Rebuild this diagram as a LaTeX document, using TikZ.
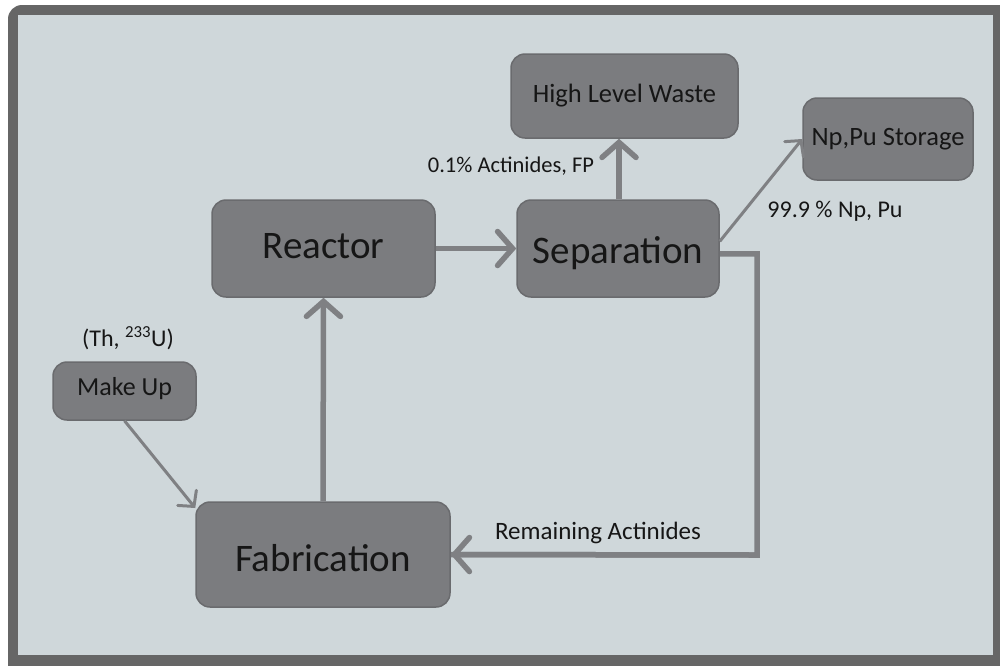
\documentclass[tikz,border=0pt]{standalone}
\usepackage{fontspec}
\setmainfont{Carlito}
\usetikzlibrary{arrows.meta,calc}
\definecolor{bgc}{HTML}{CFD7DA}
\definecolor{framec}{HTML}{666666}
\definecolor{boxc}{HTML}{7B7C7F}
\definecolor{boxb}{HTML}{6A6B6E}
\definecolor{linec}{HTML}{7F8083}
\definecolor{txt}{HTML}{161616}
\tikzset{
  box/.style={draw=boxb, line width=1.5pt, fill=boxc, rounded corners=14pt, inner sep=0pt, text=txt, align=center},
  big/.style={font=\fontsize{39}{42}\selectfont},
  mid/.style={font=\fontsize{26.5}{29}\selectfont},
  lbl/.style={text=txt, inner sep=0pt, font=\fontsize{23}{26}\selectfont},
  thickarrow/.style={draw=linec, line width=5.5pt, -{Straight Barb[length=15pt,width=34pt,line cap=round]}},
  thinarrow/.style={draw=linec, line width=3pt, -{Straight Barb[length=11pt,width=24pt,line cap=round]}},
  thickline/.style={draw=linec, line width=5.5pt}
}
\begin{document}
\begin{tikzpicture}[x=1pt,y=-1pt]
\useasboundingbox (0,0) rectangle (1000,665);
\fill[framec, rounded corners=14pt] (8,5) rectangle (1012,678);
\fill[bgc] (18,15) rectangle (993,655);

\node[box, big, minimum width=223pt, minimum height=97pt] (rea) at (323.5,248.5) {\raisebox{2pt}[\height][\depth]{Reactor}};
\node[box, big, minimum width=202pt, minimum height=97pt] (sep) at (618,248.5) {\raisebox{-5pt}[\height][\depth]{Separation}};
\node[box, mid, minimum width=227pt, minimum height=84pt] (hlw) at (624.5,96) {High Level Waste};
\node[box, mid, minimum width=170pt, minimum height=82pt] (np) at (888,139) {Np,Pu Storage};
\node[box, font=\fontsize{26}{29}\selectfont, minimum width=143pt, minimum height=58pt] (mk) at (124.5,391) {\raisebox{2pt}[\height][\depth]{Make Up}};
\node[box, big, minimum width=254pt, minimum height=105pt] (fab) at (323,554.5) {\raisebox{-4pt}[\height][\depth]{Fabrication}};

\node[lbl, font=\fontsize{22.5}{25}\selectfont] (l1) at (511,166) {0.1\% Actinides, FP};
\node[lbl, font=\fontsize{24}{27}\selectfont] (l2) at (835,211) {99.9 \% Np, Pu};
\node[lbl, font=\fontsize{24}{27}\selectfont] (l3) at (128,338) {(Th, \textsuperscript{233}U)};
\node[lbl, font=\fontsize{25}{28}\selectfont] (l4) at (598,533) {Remaining Actinides};

\coordinate (c1) at (757,555);

\draw[thickarrow] (rea.east |- sep.west) -- (sep.west);
\draw[thickarrow] (sep.north -| 619,0) -- (619,0 |- hlw.south);
\draw[thinarrow] (sep.4) -- (np.west);
\draw[thickline, line join=miter] (sep.-3) -| (c1) -- (fab.east);
\draw[thickarrow] (c1) -- (fab.east);
\draw[thickarrow] (fab.north) -- (rea.south);
\draw[thinarrow] (mk.south) -- (fab.160);
\end{tikzpicture}
\end{document}
